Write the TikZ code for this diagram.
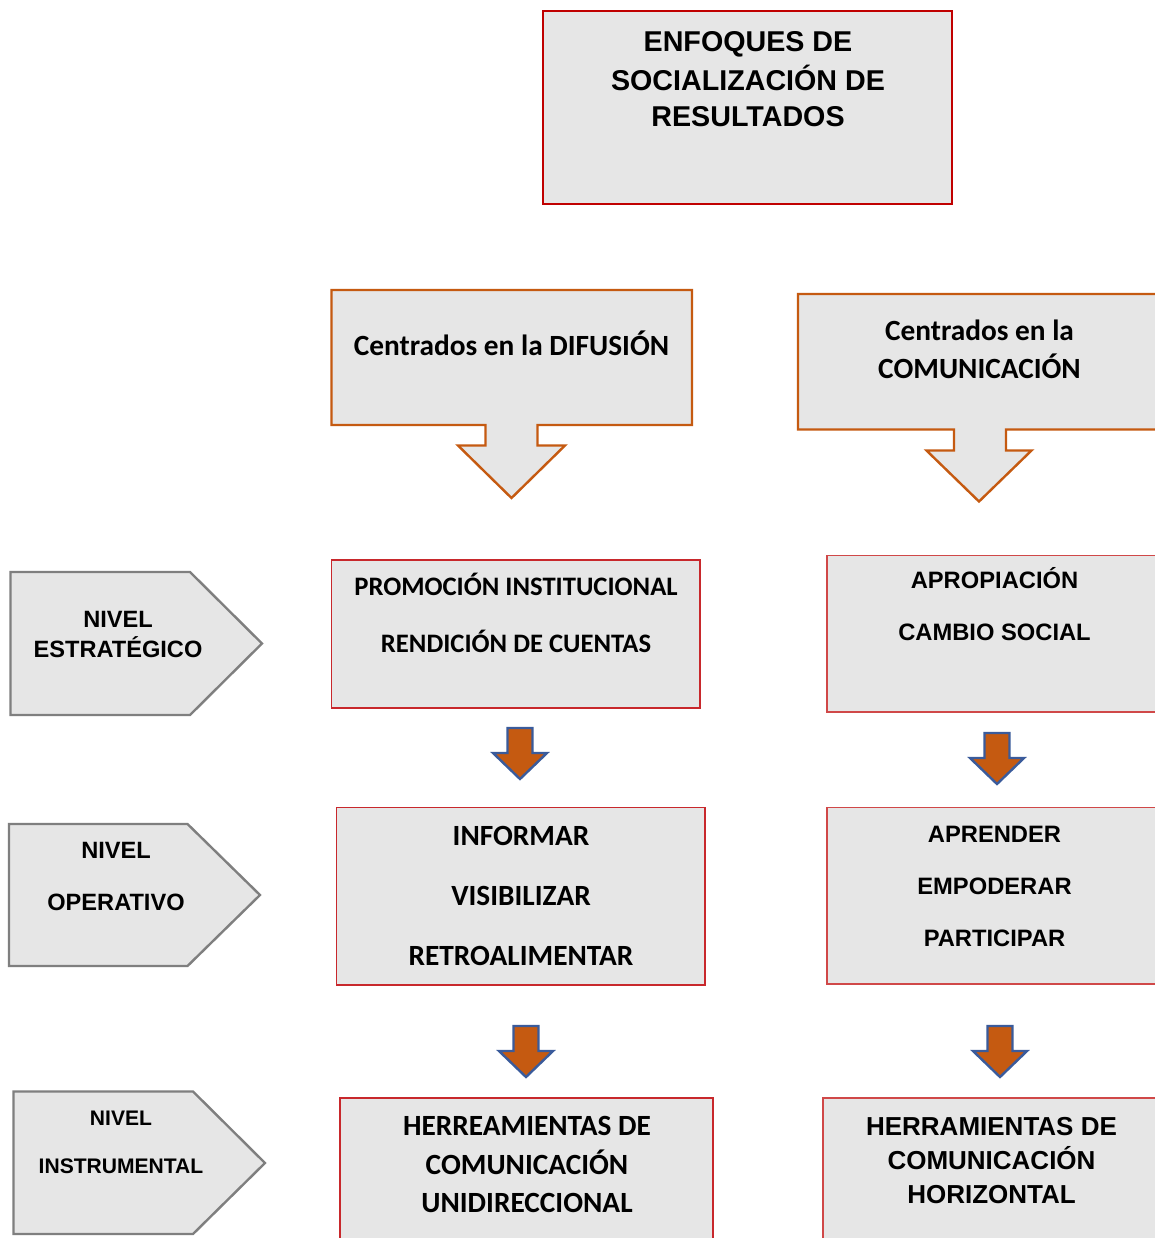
\documentclass[tikz,border=0pt]{standalone}
\usepackage{fontspec}
\newfontfamily\calfont{Carlito}
\newfontfamily\arifont{Liberation Sans}
\definecolor{boxgray}{HTML}{E6E6E6}
\definecolor{topred}{HTML}{C00000}
\definecolor{colred}{HTML}{C8282C}
\definecolor{colredr}{HTML}{D04848}
\definecolor{calorange}{HTML}{C55A11}
\definecolor{pentgray}{HTML}{7F7F7F}
\definecolor{arrblue}{HTML}{3A5B9B}
\tikzset{
  topbox/.style={fill=boxgray, draw=topred, line width=1.9pt},
  callout/.style={fill=boxgray, draw=calorange, line width=1.8pt},
  pent/.style={fill=boxgray, draw=pentgray, line width=1.8pt},
  lbox/.style={fill=boxgray, draw=colred, line width=1.1pt},
  rbox/.style={fill=boxgray, draw=colredr, line width=1.4pt},
  smallarr/.style={fill=calorange, draw=arrblue, line width=1.8pt, line join=miter},
  txt/.style={anchor=base, inner sep=0pt, text=black},
  ari/.style={txt, font=\arifont\bfseries\fontsize{#1}{#1}\selectfont},
  cal/.style={txt, font=\calfont\bfseries\fontsize{#1}{#1}\selectfont},
  downarrow/.pic={
    \path[smallarr] (-12.5,0) -- (12.5,0) -- (12.5,25) -- (27,25) -- (0,51)
      -- (-27,25) -- (-12.5,25) -- cycle;
  }
}
\begin{document}
\begin{tikzpicture}[x=0.75pt,y=-0.75pt]
\clip (0,0) rectangle (1155,1238);
\fill[white] (0,0) rectangle (1155,1238);

% title box
\path[topbox] (543,11) rectangle (952,204);
\node[ari=21.5pt] (t1) at (748,52) {ENFOQUES DE};
\node[ari=21.5pt] (t2) at (748,90) {SOCIALIZACIÓN DE};
\node[ari=21.5pt] (t3) at (748,127) {RESULTADOS};

% callouts
\path[callout] (331.5,290) -- (692,290) -- (692,425) -- (537.5,425) -- (537.5,445.5)
  -- (565,445.5) -- (511.5,498) -- (458,445.5) -- (485.5,445.5) -- (485.5,425)
  -- (331.5,425) -- cycle;
\node[cal=22pt] (c1) at (511.5,355) {Centrados en la DIFUSIÓN};

\path[callout] (798,294) -- (1165,294) -- (1165,429.5) -- (1006,429.5) -- (1006,450.5)
  -- (1031.5,450.5) -- (979,501.5) -- (926.5,450.5) -- (954,450.5) -- (954,429.5)
  -- (798,429.5) -- cycle;
\node[cal=22pt] (c2a) at (979.5,340) {Centrados en la};
\node[cal=22pt] (c2b) at (979.5,378) {COMUNICACIÓN};

% level pentagons
\path[pent] (10.5,572) -- (190,572) -- (262,643.5) -- (190,715) -- (10.5,715) -- cycle;
\node[ari=17.7pt] (n1a) at (118,627) {NIVEL};
\node[ari=17.7pt] (n1b) at (118,657) {ESTRATÉGICO};

\path[pent] (9,824) -- (187.5,824) -- (260,895) -- (187.5,966) -- (9,966) -- cycle;
\node[ari=17.7pt] (n2a) at (116,858.5) {NIVEL};
\node[ari=17.7pt] (n2b) at (116,910.5) {OPERATIVO};

\path[pent] (13.5,1091.5) -- (193,1091.5) -- (265,1163) -- (193,1234) -- (13.5,1234) -- cycle;
\node[ari=15.8pt] (n3a) at (121,1125) {NIVEL};
\node[ari=15.8pt] (n3b) at (121,1173) {INSTRUMENTAL};

% left column
\path[lbox] (331.5,560) rectangle (700,708);
\node[cal=20pt] (l1a) at (516,595.5) {PROMOCIÓN INSTITUCIONAL};
\node[cal=20pt] (l1b) at (516,652) {RENDICIÓN DE CUENTAS};

\path[lbox] (336.5,807.5) rectangle (705,985);
\node[cal=22pt] (l2a) at (521,845.5) {INFORMAR};
\node[cal=22pt] (l2b) at (521,905.5) {VISIBILIZAR};
\node[cal=22pt] (l2c) at (521,965.5) {RETROALIMENTAR};

\path[lbox] (340,1098) rectangle (713,1250);
\node[cal=22pt] (l3a) at (527,1135.5) {HERREAMIENTAS DE};
\node[cal=22pt] (l3b) at (527,1174) {COMUNICACIÓN};
\node[cal=22pt] (l3c) at (527,1212.5) {UNIDIRECCIONAL};

% right column
\path[rbox] (827,555.5) rectangle (1170,712);
\node[ari=17.8pt] (r1a) at (994.5,588) {APROPIACIÓN};
\node[ari=17.8pt] (r1b) at (994.5,640.5) {CAMBIO SOCIAL};

\path[rbox] (827,807.5) rectangle (1170,984);
\node[ari=17.8pt] (r2a) at (994.5,842) {APRENDER};
\node[ari=17.8pt] (r2b) at (994.5,894) {EMPODERAR};
\node[ari=17.8pt] (r2c) at (994.5,946.5) {PARTICIPAR};

\path[rbox] (823,1098) rectangle (1170,1250);
\node[ari=19.5pt] (r3a) at (991.5,1135) {HERRAMIENTAS DE};
\node[ari=19.5pt] (r3b) at (991.5,1169.5) {COMUNICACIÓN};
\node[ari=19.5pt] (r3c) at (991.5,1203.5) {HORIZONTAL};

% small block arrows
\pic at (520,728) {downarrow};
\pic at (997,733) {downarrow};
\pic at (526,1026) {downarrow};
\pic at (1000,1026) {downarrow};
\end{tikzpicture}
\end{document}
